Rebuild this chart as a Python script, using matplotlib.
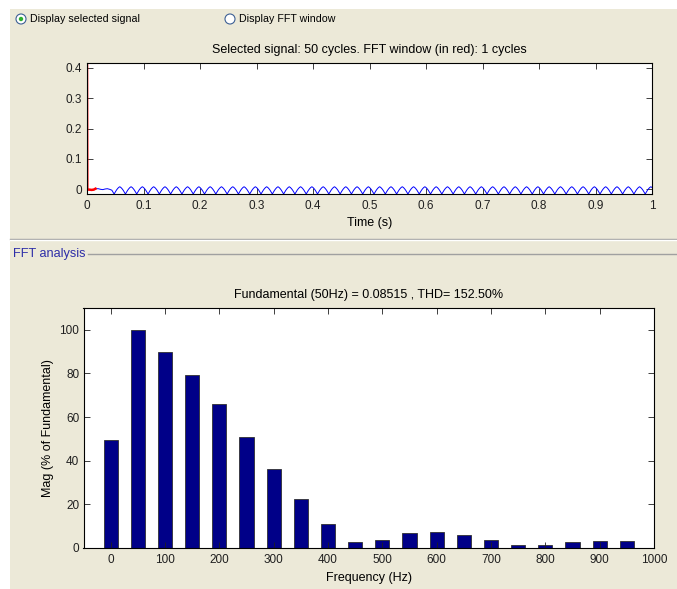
import numpy as np
import matplotlib.pyplot as plt
from matplotlib.patches import Rectangle, Circle

plt.rcParams['font.family'] = ['Liberation Sans', 'DejaVu Sans']

# FFT spectrum (harmonics of 50 Hz), % of fundamental
freqs = [0, 50, 100, 150, 200, 250, 300, 350, 400, 450,
         500, 550, 600, 650, 700, 750, 800, 850, 900, 950]
mags = [49.6, 100, 89.8, 79.1, 65.8, 51.0, 36.2, 22.4, 11.1, 2.7,
        3.8, 6.8, 7.3, 5.9, 3.8, 1.4, 1.4, 2.7, 3.3, 3.3]

# selected signal: start-up part read point by point
start_t = [0.0, 0.0005, 0.004, 0.008, 0.012, 0.015, 0.020, 0.024,
           0.028, 0.032, 0.036, 0.040, 0.044]
start_v = [0.416, -0.002, -0.002, -0.003, -0.002, 0.001, 0.001, -0.001,
           -0.002, 0.0, 0.001, -0.001, -0.004]
# one steady cycle (20 ms, sampled every 2 ms), repeats for the rest
cycle_v = [-0.0165, -0.010, -0.004, 0.001, 0.005, 0.0075, 0.005, 0.001, -0.004, -0.010]
steady_start = 0.048
window_end = 0.015

BEIGE = '#ece9d8'

fig = plt.figure(figsize=(6.77, 5.89), dpi=100)

# background panel in pixel units
bg = fig.add_axes([0, 0, 1, 1], zorder=-5)
bg.set_xlim(0, 677)
bg.set_ylim(589, 0)
bg.axis('off')
bg.add_patch(Rectangle((10, 9), 667, 580, facecolor=BEIGE, edgecolor='none'))
bg.plot([10, 677], [238.5, 238.5], color='#a0a0a0', lw=1)
bg.plot([10, 677], [239.5, 239.5], color='white', lw=1)
bg.plot([88, 677], [254, 254], color='#a0a0a0', lw=1)
bg.text(13, 254, 'FFT analysis', color='#2e2ea8', fontsize=9.2, va='center', ha='left')

# radio buttons
bg.add_patch(Circle((21, 19), 5, facecolor='white', edgecolor='#3c5f94', lw=0.8))
bg.add_patch(Circle((21, 19), 2.2, facecolor='#2fb02f', edgecolor='none'))
bg.text(30, 19.5, 'Display selected signal', fontsize=7.7, va='center', ha='left')
bg.add_patch(Circle((230, 19), 5, facecolor='white', edgecolor='#3c5f94', lw=0.8))
bg.text(239, 19.5, 'Display FFT window', fontsize=7.7, va='center', ha='left')

W, H = 677, 589


def px_axes(x0, y0, x1, y1):
    return fig.add_axes([x0 / W, 1 - y1 / H, (x1 - x0) / W, (y1 - y0) / H])


def matlab_style(ax):
    ax.tick_params(direction='in', top=True, right=True, length=4, width=0.6,
                   labelsize=8.5, colors='#202020')
    for s in ax.spines.values():
        s.set_linewidth(0.8)


# --- selected signal ---
ax1 = px_axes(87, 63, 652, 194)
n = int(round((1.0 - steady_start) / 0.002)) + 1
t_steady = steady_start + 0.002 * np.arange(n)
v_steady = np.tile(cycle_v, n // len(cycle_v) + 1)[:n]
t = np.concatenate([start_t, t_steady])
v = np.concatenate([start_v, v_steady])
ax1.plot(t, v, color='blue', lw=0.7)
mask = t <= window_end
ax1.plot(t[mask], v[mask], color='red', lw=1.8)
ax1.set_xlim(0, 1)
ax1.set_ylim(-0.0165, 0.4165)
ax1.set_xticks(np.arange(0, 1.01, 0.1))
ax1.set_xticklabels(['0', '0.1', '0.2', '0.3', '0.4', '0.5', '0.6', '0.7', '0.8', '0.9', '1'])
ax1.set_yticks([0, 0.1, 0.2, 0.3, 0.4])
ax1.set_yticklabels(['0', '0.1', '0.2', '0.3', '0.4'])
matlab_style(ax1)
ax1.tick_params(axis='x', pad=4.5)
ax1.tick_params(axis='y', pad=3.5)
ax1.set_xlabel('Time (s)', fontsize=9, labelpad=3.5)
ax1.set_title('Selected signal: 50 cycles. FFT window (in red): 1 cycles', fontsize=9, pad=7)

# --- FFT spectrum ---
ax2 = px_axes(83.5, 308, 654, 548)
ax2.bar(freqs, mags, width=26, color='#000088', edgecolor='#303030', linewidth=0.6)
ax2.set_xlim(-50, 1000)
ax2.set_ylim(0, 110)
ax2.set_xticks(range(0, 1001, 100))
ax2.set_yticks(range(0, 101, 20))
matlab_style(ax2)
ax2.tick_params(axis='x', pad=4.5)
ax2.tick_params(axis='y', pad=3)
ax2.set_xlabel('Frequency (Hz)', fontsize=9, labelpad=4)
ax2.set_ylabel('Mag (% of Fundamental)', fontsize=9, labelpad=4)
ax2.set_title('Fundamental (50Hz) = 0.08515 , THD= 152.50%', fontsize=9, pad=7)

fig.savefig('out.png', dpi=100)
